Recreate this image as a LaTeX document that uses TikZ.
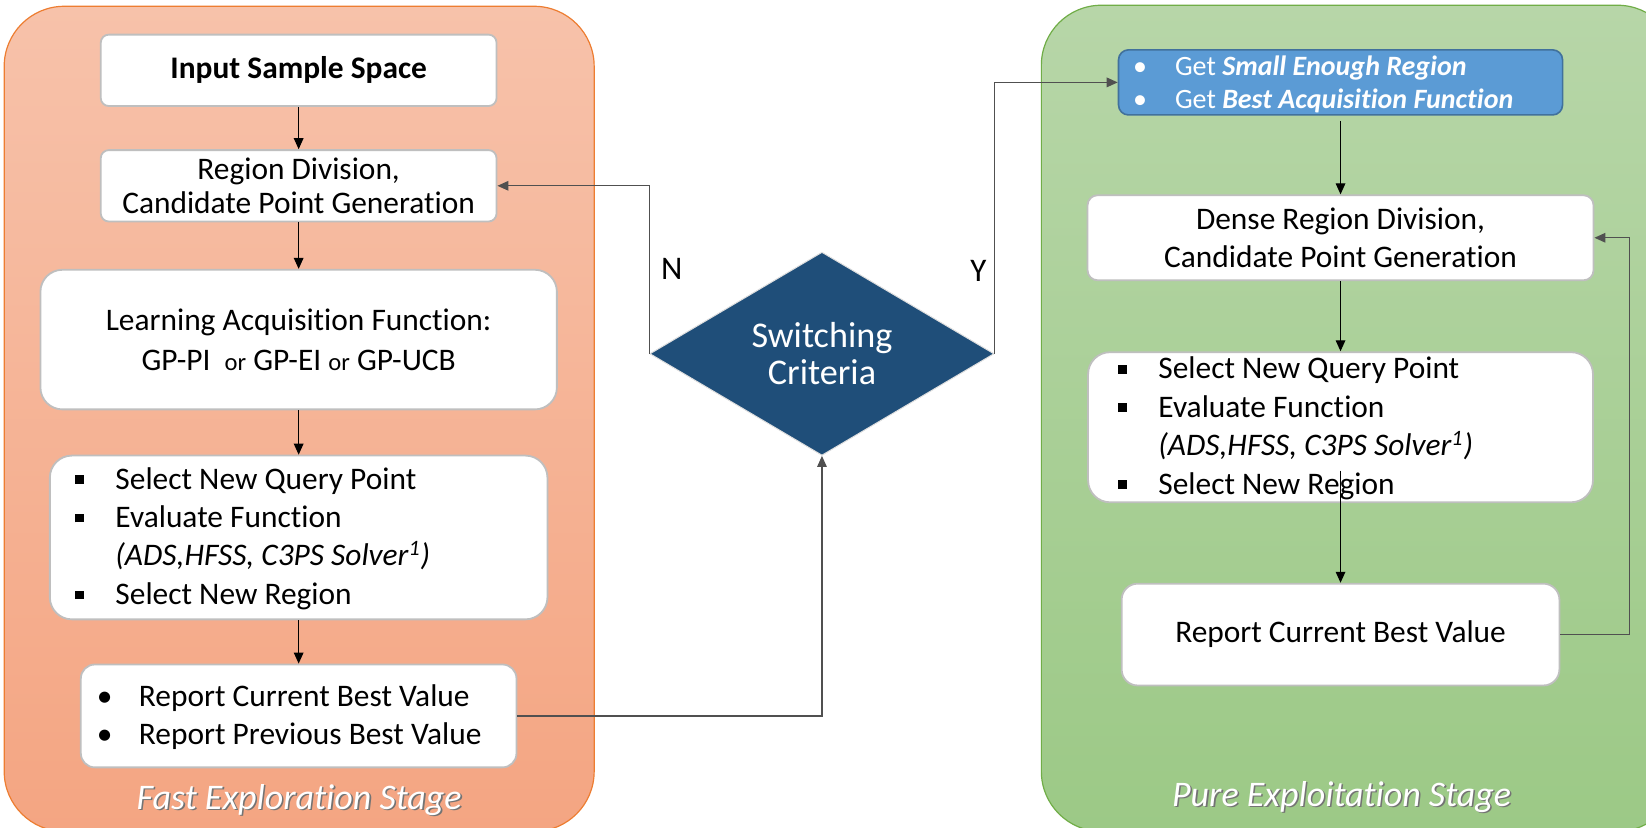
\documentclass[tikz,border=0pt]{standalone}
\usepackage{fontspec}
\setmainfont{Carlito}[Ligatures={NoCommon}]
\usetikzlibrary{arrows.meta,shapes.geometric}

\definecolor{panelOtop}{RGB}{247,194,170}
\definecolor{panelObot}{RGB}{244,165,130}
\definecolor{panelOedge}{RGB}{237,125,49}
\definecolor{panelGtop}{RGB}{183,214,168}
\definecolor{panelGbot}{RGB}{156,201,134}
\definecolor{panelGedge}{RGB}{112,173,71}
\definecolor{boxgray}{RGB}{191,191,191}
\definecolor{getblue}{RGB}{91,155,213}
\definecolor{getedge}{RGB}{65,113,156}
\definecolor{critblue}{RGB}{31,78,121}
\definecolor{linkgray}{RGB}{80,80,80}

% one drawing unit
\newlength\pxl \setlength\pxl{0.52487pt}
% bullets with their hanging column
\newcommand\sqbul{\makebox[20pt][l]{\rule[2.6pt]{4.3pt}{4.3pt}}}
\newcommand\rdbul{\makebox[21pt][l]{•}}
\newcommand\getbul{\makebox[21pt][l]{•}}

\begin{document}
\begin{tikzpicture}[x=\pxl, y=-\pxl,
  wbox/.style={draw=boxgray, line width=0.9pt, fill=white, rounded corners=4pt,
    inner sep=0pt, align=center, font=\fontsize{15.7}{17.3}\selectfont},
  listtext/.style={anchor=west, inner sep=0pt, align=left,
    font=\fontsize{15.7}{19.2}\selectfont},
  flow/.style={-{Triangle[length=5.5pt,width=4.8pt]}, line width=0.6pt, draw=black},
  loopline/.style={flow, draw=linkgray},
  stage/.style={font=\fontsize{18}{19}\selectfont\itshape, text=white, inner sep=0pt},
  stageshadow/.style={stage, text=black!55},
  yn/.style={font=\fontsize{16.5}{16.5}\selectfont, inner sep=0pt}]

\useasboundingbox (0,0) rectangle (1568,788);
\clip (0,0) rectangle (1568,788);

% stage panels
\draw[panelOedge, line width=0.6pt, top color=panelOtop, bottom color=panelObot,
  rounded corners=30pt] (4,6) rectangle (566,792);
\draw[panelGedge, line width=0.6pt, top color=panelGtop, bottom color=panelGbot,
  rounded corners=30pt] (992,5) rectangle (1598,792);

% exploration column
\node[wbox, minimum width=377*\pxl, minimum height=68*\pxl,
  font=\fontsize{15.7}{17}\selectfont\bfseries] (in) at (284.5,67) {Input Sample Space};
\node[wbox, minimum width=377*\pxl, minimum height=68*\pxl] (rd) at (284.5,177)
  {Region Division,\\Candidate Point Generation};
\node[wbox, minimum width=492*\pxl, minimum height=133*\pxl, rounded corners=11pt,
  font=\fontsize{15.7}{20}\selectfont] (la) at (284.5,323.5)
  {Learning Acquisition Function:\\GP-PI\ \ {\fontsize{12.3}{20}\selectfont or} GP-EI {\fontsize{12.3}{20}\selectfont or} GP-UCB};
\node[wbox, minimum width=474*\pxl, minimum height=156*\pxl, rounded corners=11pt]
  (sel) at (284.5,512) {};
\node[listtext] (selT) at (71.5,513)
  {\sqbul Select New Query Point\\
   \sqbul Evaluate Function\\
   \hspace*{20pt}\textit{(ADS,HFSS, C3PS Solver\textsuperscript{1})}\\
   \sqbul Select New Region};
\node[wbox, minimum width=415*\pxl, minimum height=98*\pxl, rounded corners=7pt]
  (rep) at (284.5,682) {};
\node[listtext] (repT) at (92,683)
  {\rdbul Report Current Best Value\\
   \rdbul Report Previous Best Value};

% decision
\node[shape=diamond, fill=critblue, draw=white!75!gray, line width=0.5pt,
  minimum width=328*\pxl, minimum height=168*\pxl, inner sep=0pt, text=white,
  align=center, font=\fontsize{18.1}{18.5}\selectfont] (sw) at (783,337)
  {Switching\\Criteria};
\node[yn] (nlab) at (640,256) {N};
\node[yn] (ylab) at (932,258) {Y};

% exploitation column
\node[draw=getedge, fill=getblue, line width=0.8pt, rounded corners=5pt,
  minimum width=423*\pxl, minimum height=62*\pxl, inner sep=0pt] (get) at (1277,78.5) {};
\node[listtext, text=white, font=\fontsize{14}{16.5}\selectfont] (getT) at (1079,80)
  {\getbul Get \textbf{\textit{Small Enough Region}}\\
   \getbul Get \textbf{\textit{Best Acquisition Function}}};
\node[wbox, minimum width=482*\pxl, minimum height=81*\pxl, rounded corners=5pt,
  font=\fontsize{15.7}{19}\selectfont] (dense) at (1277,226.5)
  {Dense Region Division,\\Candidate Point Generation};
\node[wbox, minimum width=481*\pxl, minimum height=143*\pxl, rounded corners=11pt]
  (sel2) at (1277,407) {};
\node[listtext] (sel2T) at (1065,408)
  {\sqbul Select New Query Point\\
   \sqbul Evaluate Function\\
   \hspace*{20pt}\textit{(ADS,HFSS, C3PS Solver\textsuperscript{1})}\\
   \sqbul Select New Region};
\node[wbox, minimum width=417*\pxl, minimum height=97*\pxl, rounded corners=8pt]
  (rep2) at (1277,604.5) {Report Current Best Value};

% stage captions
\node[stageshadow] (fastSh) at (286.5,763.5) {Fast Exploration Stage};
\node[stage] (fastS) at (285,762) {Fast Exploration Stage};
\node[stageshadow] (pureSh) at (1279.5,760.5) {Pure Exploitation Stage};
\node[stage] (pureS) at (1278,759) {Pure Exploitation Stage};

% connectors
\draw[flow] (in) -- (rd);
\draw[flow] (rd) -- (la);
\draw[flow] (la) -- (sel);
\draw[flow] (sel) -- (rep);
\draw[loopline] (rep.east) -| (sw.south);
\draw[loopline] (sw.west) |- (rd.east);
\draw[loopline] (sw.east) |- (get.west);
\draw[flow] ([yshift=-2.6pt]get.south) -- (dense.north);
\draw[flow] (dense) -- (sel2);
\draw[flow] ([yshift=16.3pt]sel2.south) -- (rep2.north);
\draw[loopline] (rep2.east) -- ++(66,0) |- (dense.east);

\end{tikzpicture}
\end{document}
